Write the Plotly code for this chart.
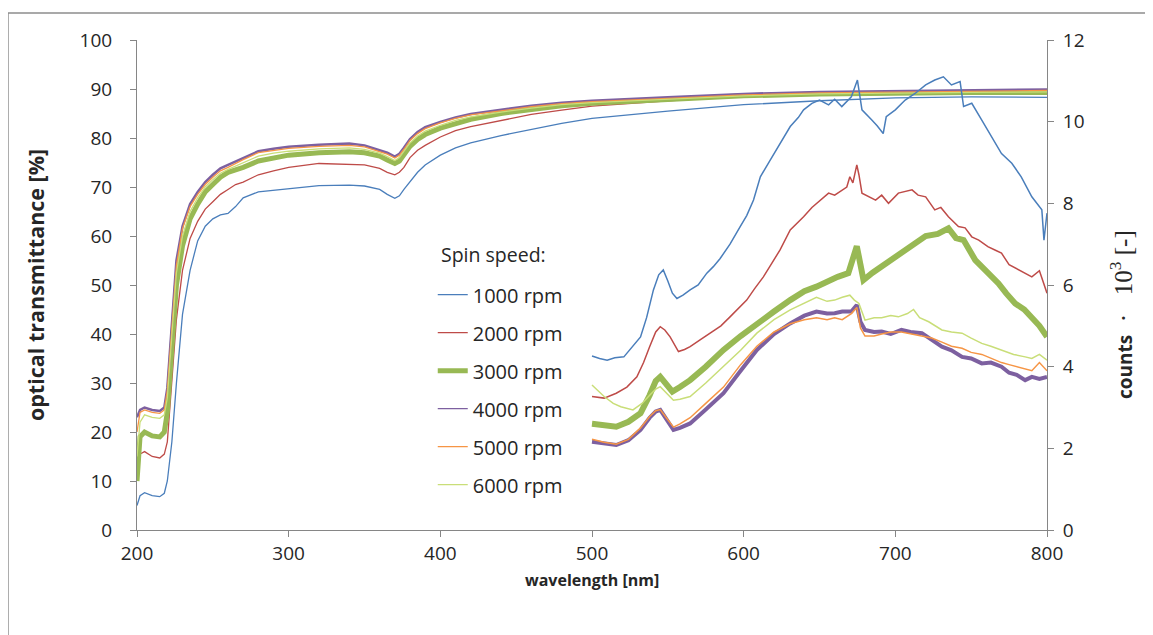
import plotly.graph_objects as go

# ---------------- data ----------------
series_names = ["1000 rpm", "2000 rpm", "3000 rpm", "4000 rpm", "5000 rpm", "6000 rpm"]

# optical transmittance [%] (left axis)
wl_T = [200, 202, 205, 210, 215, 218, 220, 223, 226, 230, 235, 240, 245, 250, 255, 260, 265, 270,
        280, 290, 300, 320, 340, 350, 360, 365, 370, 373, 376, 380, 385, 390, 400, 410, 420, 440,
        460, 480, 500, 550, 600, 650, 700, 750, 800]
T_1000 = [5, 7, 7.6, 7, 6.8, 7.5, 10, 18, 30, 44, 53, 59, 62, 63.5, 64.3, 64.6, 66, 67.8,
          69, 69.3, 69.7, 70.3, 70.4, 70.2, 69.5, 68.5, 67.7, 68.2, 69.5, 71, 73, 74.5, 76.5, 78, 79, 80.5,
          81.8, 83, 84, 85.5, 86.8, 87.6, 88.2, 88.4, 88.3]
T_2000 = [11, 15.5, 16, 15, 14.7, 15.5, 18, 30, 43, 53, 59.5, 63, 65.5, 67, 68.5, 69.5, 70.5, 71,
          72.5, 73.3, 74, 74.8, 74.7, 74.5, 73.8, 73, 72.5, 73, 74, 76, 77.5, 78.5, 80.2, 81.5, 82.3, 83.6,
          84.8, 85.7, 86.5, 87.6, 88.5, 89, 89.3, 89.5, 89.6]
T_3000 = [10, 19, 20, 19.2, 19, 20, 24, 38, 50, 58, 63.5, 66.5, 69, 70.5, 72, 73, 73.5, 74,
          75.3, 76, 76.5, 77, 77.2, 77, 76.3, 75.5, 74.8, 75.3, 76.5, 78.3, 79.7, 80.7, 82, 83, 83.8, 85,
          85.9, 86.6, 87.1, 87.9, 88.6, 89, 89.2, 89.3, 89.3]
T_4000 = [23, 24.5, 25, 24.5, 24.3, 25, 29, 43, 55, 62, 66.5, 69, 71, 72.5, 73.8, 74.5, 75.2, 76,
          77.3, 77.8, 78.2, 78.6, 78.9, 78.5, 77.6, 77, 76.2, 76.8, 78, 79.8, 81.2, 82.2, 83.3, 84.2, 84.9, 85.8,
          86.6, 87.2, 87.6, 88.3, 89, 89.4, 89.6, 89.8, 89.9]
T_5000 = [20, 24, 24.5, 24, 23.8, 24.5, 28.5, 42, 54, 61.5, 66, 68.5, 70.5, 72, 73.3, 74, 74.8, 75.6,
          77, 77.5, 77.9, 78.3, 78.5, 78.2, 77.3, 76.7, 75.9, 76.5, 77.7, 79.5, 80.9, 81.9, 83.1, 84, 84.7, 85.6,
          86.4, 87, 87.4, 88.1, 88.8, 89.2, 89.4, 89.6, 89.7]
T_6000 = [15, 22, 23.5, 23, 22.8, 23.5, 27, 40.5, 52.5, 60, 65, 67.8, 70, 71.5, 72.8, 73.6, 74.3, 75,
          76.3, 76.9, 77.3, 77.8, 78, 77.7, 76.9, 76.2, 75.4, 76, 77.2, 79, 80.4, 81.4, 82.6, 83.6, 84.3, 85.3,
          86.1, 86.8, 87.2, 87.9, 88.6, 89, 89.2, 89.3, 89.4]

# counts * 10^3 (right axis)
wl_C_1000 = [500, 505, 510, 515, 521, 526, 532, 536, 540.5, 544, 547, 550, 553, 556, 560, 564.7, 570, 575.7,
             580, 584.5, 587, 591, 597.7, 602, 606.5, 611, 617.5, 624, 630.7, 636, 639.5, 645, 650, 656, 660,
             664.7, 671, 675, 678, 684.5, 688, 692, 694, 700, 706.5, 713, 720, 726, 731.7, 737, 742.7, 745,
             750.4, 757, 763.6, 770, 776.8, 783, 790, 796.6, 798, 800]
C_1000 = [4.26, 4.2, 4.16, 4.22, 4.24, 4.45, 4.73, 5.2, 5.88, 6.25, 6.37, 6.1, 5.8, 5.67, 5.75, 5.88, 6.0, 6.29,
          6.45, 6.65, 6.78, 7.0, 7.43, 7.7, 8.08, 8.65, 9.06, 9.47, 9.88, 10.1, 10.29, 10.45, 10.53, 10.41, 10.55,
          10.37, 10.61, 11.02, 10.29, 10.04, 9.9, 9.71, 10.12, 10.29, 10.53, 10.69, 10.9, 11.02, 11.1, 10.9, 10.98, 10.37,
          10.45, 10.04, 9.63, 9.22, 8.98, 8.65, 8.16, 7.84, 7.1, 7.76]

wl_C_2000 = [500, 508, 516, 523, 529.6, 534, 538, 542, 545, 548, 551.5, 557, 561, 564.7, 571, 578, 585, 591,
             596, 602, 607, 613, 618, 624, 630.7, 635, 639.5, 645, 650.5, 656, 660, 664.7, 668, 670, 672, 674.6,
             676, 678, 683, 687, 691, 695.5, 702, 707, 711, 715, 720, 726, 730, 735, 741.6, 746, 750.4, 755, 761,
             766, 770, 775, 780, 785, 790, 795, 798, 800]
C_2000 = [3.27, 3.23, 3.35, 3.5, 3.75, 4.1, 4.49, 4.85, 4.98, 4.9, 4.73, 4.37, 4.42, 4.49, 4.65, 4.82, 5.0, 5.22,
          5.4, 5.63, 5.9, 6.2, 6.5, 6.86, 7.35, 7.5, 7.67, 7.9, 8.08, 8.25, 8.2, 8.33, 8.4, 8.65, 8.5, 8.94,
          8.7, 8.25, 8.15, 8.08, 8.2, 8.0, 8.25, 8.3, 8.33, 8.2, 8.16, 7.84, 7.9, 7.67, 7.43, 7.4, 7.18, 7.1, 6.94,
          6.85, 6.78, 6.5, 6.4, 6.3, 6.2, 6.35, 6.0, 5.8]

wl_C_3000 = [500, 508, 516, 524, 532, 538, 542, 545, 549, 553, 558, 564.7, 575, 586.7, 598, 608.7, 620, 630.7,
             640, 648, 655, 662, 669, 672, 674.6, 677, 679, 685, 691, 697, 704, 712, 720, 728, 735, 740, 745,
             752.7, 760, 768, 773, 779, 785, 790, 795, 800]
C_3000 = [2.6, 2.56, 2.53, 2.65, 2.86, 3.3, 3.65, 3.75, 3.55, 3.39, 3.5, 3.67, 4.0, 4.41, 4.75, 5.06, 5.35, 5.63,
          5.85, 5.96, 6.1, 6.2, 6.29, 6.6, 6.95, 6.5, 6.12, 6.3, 6.45, 6.6, 6.78, 7.0, 7.2, 7.25, 7.39, 7.15, 7.1,
          6.61, 6.35, 6.04, 5.8, 5.55, 5.4, 5.22, 5.0, 4.73]

wl_C_4000 = [500, 508, 516, 524, 532, 538, 542, 545, 549, 553.7, 558, 564.7, 575, 586.7, 598, 608.7, 620, 630.7,
             640, 648, 655, 660, 665, 671, 674.6, 677, 680, 686, 691, 697, 704, 710, 717.5, 724, 730.7, 737, 744,
             750, 757, 763, 770, 775, 780, 785.6, 790, 795, 800]
C_4000 = [2.16, 2.12, 2.08, 2.2, 2.45, 2.75, 2.9, 2.94, 2.7, 2.45, 2.5, 2.61, 2.95, 3.35, 3.9, 4.41, 4.8, 5.06,
          5.25, 5.35, 5.3, 5.31, 5.35, 5.35, 5.51, 5.1, 4.9, 4.85, 4.86, 4.8, 4.9, 4.85, 4.82, 4.65, 4.49, 4.4, 4.24,
          4.2, 4.08, 4.1, 4.0, 3.85, 3.8, 3.67, 3.75, 3.7, 3.75]

wl_C_5000 = wl_C_4000
C_5000 = [2.22, 2.15, 2.1, 2.22, 2.5, 2.78, 2.92, 2.95, 2.75, 2.52, 2.6, 2.75, 3.1, 3.5, 4.05, 4.5, 4.85, 5.05,
          5.15, 5.2, 5.15, 5.2, 5.15, 5.3, 5.45, 4.95, 4.75, 4.75, 4.8, 4.85, 4.85, 4.8, 4.75, 4.7, 4.6, 4.5, 4.45,
          4.35, 4.3, 4.2, 4.1, 4.05, 4.0, 3.95, 3.9, 4.1, 3.9]

wl_C_6000 = [500, 504, 508, 514, 519, 527, 533, 538, 542, 545, 549, 553.7, 558, 564.7, 575, 586.7, 598, 608.7,
             620, 630.7, 640, 648, 655, 660, 665, 670, 673, 676, 680, 686, 691, 697, 702, 708, 712, 716, 722,
             730.7, 737, 744, 750, 757, 763, 770, 778, 785.6, 790, 795, 800]
C_6000 = [3.55, 3.4, 3.27, 3.1, 3.02, 2.94, 3.1, 3.3, 3.45, 3.51, 3.35, 3.18, 3.2, 3.27, 3.6, 4.0, 4.4, 4.82,
          5.15, 5.39, 5.55, 5.7, 5.6, 5.63, 5.7, 5.75, 5.63, 5.55, 5.14, 5.2, 5.2, 5.25, 5.22, 5.3, 5.4, 5.2, 5.1,
          4.9, 4.85, 4.82, 4.7, 4.57, 4.5, 4.41, 4.3, 4.24, 4.2, 4.3, 4.16]

x_ticks = [200, 300, 400, 500, 600, 700, 800]
yl_ticks = [0, 10, 20, 30, 40, 50, 60, 70, 80, 90, 100]
yr_ticks = [0, 2, 4, 6, 8, 10, 12]

# ---------------- styles ----------------
colors = ["#4A7EBB", "#BE4B48", "#98B954", "#7D60A0", "#F69545", "#C9DE78"]
T_widths = [1.3, 1.3, 5, 2.5, 1.3, 1.3]
C_widths = [1.5, 1.5, 6, 4, 1.5, 1.5]
FONT = "Open Sans"
TXT = "#262626"

T_list = [T_1000, T_2000, T_3000, T_4000, T_5000, T_6000]
C_wl = [wl_C_1000, wl_C_2000, wl_C_3000, wl_C_4000, wl_C_5000, wl_C_6000]
C_list = [C_1000, C_2000, C_3000, C_4000, C_5000, C_6000]
legend_widths = [1.3, 1.3, 5, 1.3, 1.3, 1.3]

fig = go.Figure()
for i, name in enumerate(series_names):
    fig.add_trace(go.Scatter(x=wl_T, y=T_list[i], mode="lines", name=name,
                             legendgroup=name, showlegend=False,
                             line=dict(color=colors[i], width=T_widths[i])))
for i, name in enumerate(series_names):
    fig.add_trace(go.Scatter(x=C_wl[i], y=C_list[i], mode="lines", name=name,
                             legendgroup=name, showlegend=False, yaxis="y2",
                             line=dict(color=colors[i], width=C_widths[i])))
# legend entries
for i, name in enumerate(series_names):
    fig.add_trace(go.Scatter(x=[None], y=[None], mode="lines", name=name,
                             legendgroup=name, showlegend=True,
                             line=dict(color=colors[i], width=legend_widths[i])))

axis_common = dict(showgrid=False, zeroline=False, showline=True, linecolor="#868686", linewidth=1,
                   ticks="outside", ticklen=6, tickcolor="#868686",
                   tickfont=dict(family=FONT, size=19, color=TXT))

# the page body adds an 8px offset, so the figure is 8px smaller than the window
fig.update_layout(
    width=1145, height=627,
    margin=dict(l=129, r=106, t=32, b=105),
    paper_bgcolor="white", plot_bgcolor="white",
    font=dict(family=FONT),
    xaxis=dict(range=[200, 800], tickvals=x_ticks, **axis_common),
    yaxis=dict(range=[0, 100], tickvals=yl_ticks, ticklabelstandoff=14, **axis_common),
    yaxis2=dict(range=[0, 12], tickvals=yr_ticks, overlaying="y", side="right",
                ticklabelstandoff=5, **axis_common),
    showlegend=True,
    legend=dict(x=0.325, y=0.52, xanchor="left", yanchor="top",
                traceorder="grouped", tracegroupgap=9,
                bgcolor="rgba(0,0,0,0)",
                font=dict(family=FONT, size=20, color=TXT)),
    annotations=[
        dict(text="Spin speed:", xref="paper", yref="paper", x=0.392, y=0.563,
             xanchor="center", yanchor="middle", showarrow=False,
             font=dict(family=FONT, size=19.5, color=TXT)),
        dict(text="<b>wavelength [nm]</b>", xref="paper", yref="paper", x=0.5, y=-0.102,
             xanchor="center", yanchor="middle", showarrow=False,
             font=dict(family=FONT, size=16, color=TXT)),
        dict(text="<b>optical transmittance [%]</b>", xref="paper", yref="paper", x=-0.112, y=0.5,
             xanchor="center", yanchor="middle", showarrow=False, textangle=-90,
             font=dict(family=FONT, size=21.5, color=TXT)),
        dict(text="<b>counts</b><span style='font-family:Liberation Serif;font-size:25px'>"
                  "&nbsp;&nbsp;·&nbsp;&nbsp;&nbsp;10<sup>3</sup>&nbsp;[-]</span>",
             xref="paper", yref="paper", x=1.082, y=0.44,
             xanchor="center", yanchor="middle", showarrow=False, textangle=-90,
             font=dict(family=FONT, size=19, color=TXT)),
    ],
    shapes=[
        dict(type="line", xref="paper", yref="paper", x0=-0.1418, x1=1.12, y0=1.0551, y1=1.0551,
             line=dict(color="#8c8c8c", width=1.5)),
        dict(type="line", xref="paper", yref="paper", x0=-0.1418, x1=-0.1418, y0=1.0551, y1=-0.22,
             line=dict(color="#8c8c8c", width=1.5)),
    ],
)

fig.write_html("out.html")
